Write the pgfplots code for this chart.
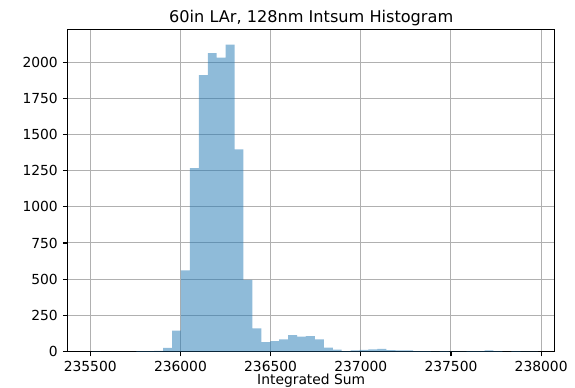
\documentclass[border=0pt]{standalone}
\usepackage{pgfplots}
\usepackage{pgfplotstable}
\pgfplotsset{compat=1.18}
\usepackage{fontspec}
\setmainfont{DejaVu Sans}
\definecolor{histblue}{HTML}{1F77B4}
\definecolor{gridgray}{HTML}{B0B0B0}

% Histogram counts: left bin edge, count (last row closes the final bin)
\pgfplotstableread{
x        n
235508.0 1
235557.5 0
235607.0 0
235656.5 0
235706.0 0
235755.5 2
235805.0 3
235854.5 4
235904.0 25
235953.5 145
236003.0 560
236052.5 1268
236102.0 1911
236151.5 2062
236201.0 2032
236250.5 2121
236300.0 1397
236349.5 495
236399.0 160
236448.5 64
236498.0 71
236547.5 83
236597.0 114
236646.5 102
236696.0 107
236745.5 83
236795.0 26
236844.5 13
236894.0 3
236943.5 7
236993.0 12
237042.5 14
237092.0 19
237141.5 9
237191.0 7
237240.5 7
237290.0 2
237339.5 2
237389.0 1
237438.5 2
237488.0 1
237537.5 1
237587.0 2
237636.5 2
237686.0 8
237735.5 2
237785.0 0
237834.5 3
237884.0 1
237933.5 1
237983.0 1
}\intsum

\begin{document}
\begin{tikzpicture}
\useasboundingbox (-67.7bp,-36.5bp) rectangle (507.3bp,351.5bp);
\begin{axis}[
  at={(0,0)}, anchor=south west,
  scale only axis, width=487bp, height=322.2bp,
  xmin=235375, xmax=238075, ymin=0, ymax=2227,
  xtick={235500,236000,236500,237000,237500,238000},
  ytick={0,250,...,2000},
  scaled ticks=false,
  /pgf/number format/fixed,
  /pgf/number format/precision=0,
  /pgf/number format/1000 sep={},
  /pgf/number format/assume math mode=true,
  tick label style={font=\fontsize{13.9}{16}\selectfont, inner sep=0pt},
  xticklabel style={yshift=-4.9bp},
  yticklabel style={xshift=-4.9bp},
  tick align=outside, major tick length=4.86bp,
  xtick pos=left, ytick pos=left,
  tick style={black, line width=1.1bp},
  grid=major, grid style={gridgray, line width=1bp},
  axis line style={black, line width=1.1bp},
  title={60in LAr, 128nm Intsum Histogram},
  title style={font=\fontsize{16.2}{19}\selectfont, at={(axis description cs:0.5,1)},
    anchor=base, yshift=1.3bp, inner sep=0pt},
  xlabel={Integrated Sum},
  xlabel style={font=\fontsize{13.9}{16}\selectfont, at={(axis description cs:0.5,0)},
    anchor=base, yshift=-33bp, inner sep=0pt},
]
\addplot[ybar interval, fill=histblue, fill opacity=0.5, draw=none] table[x=x, y=n] {\intsum};
\end{axis}
\end{tikzpicture}
\end{document}
